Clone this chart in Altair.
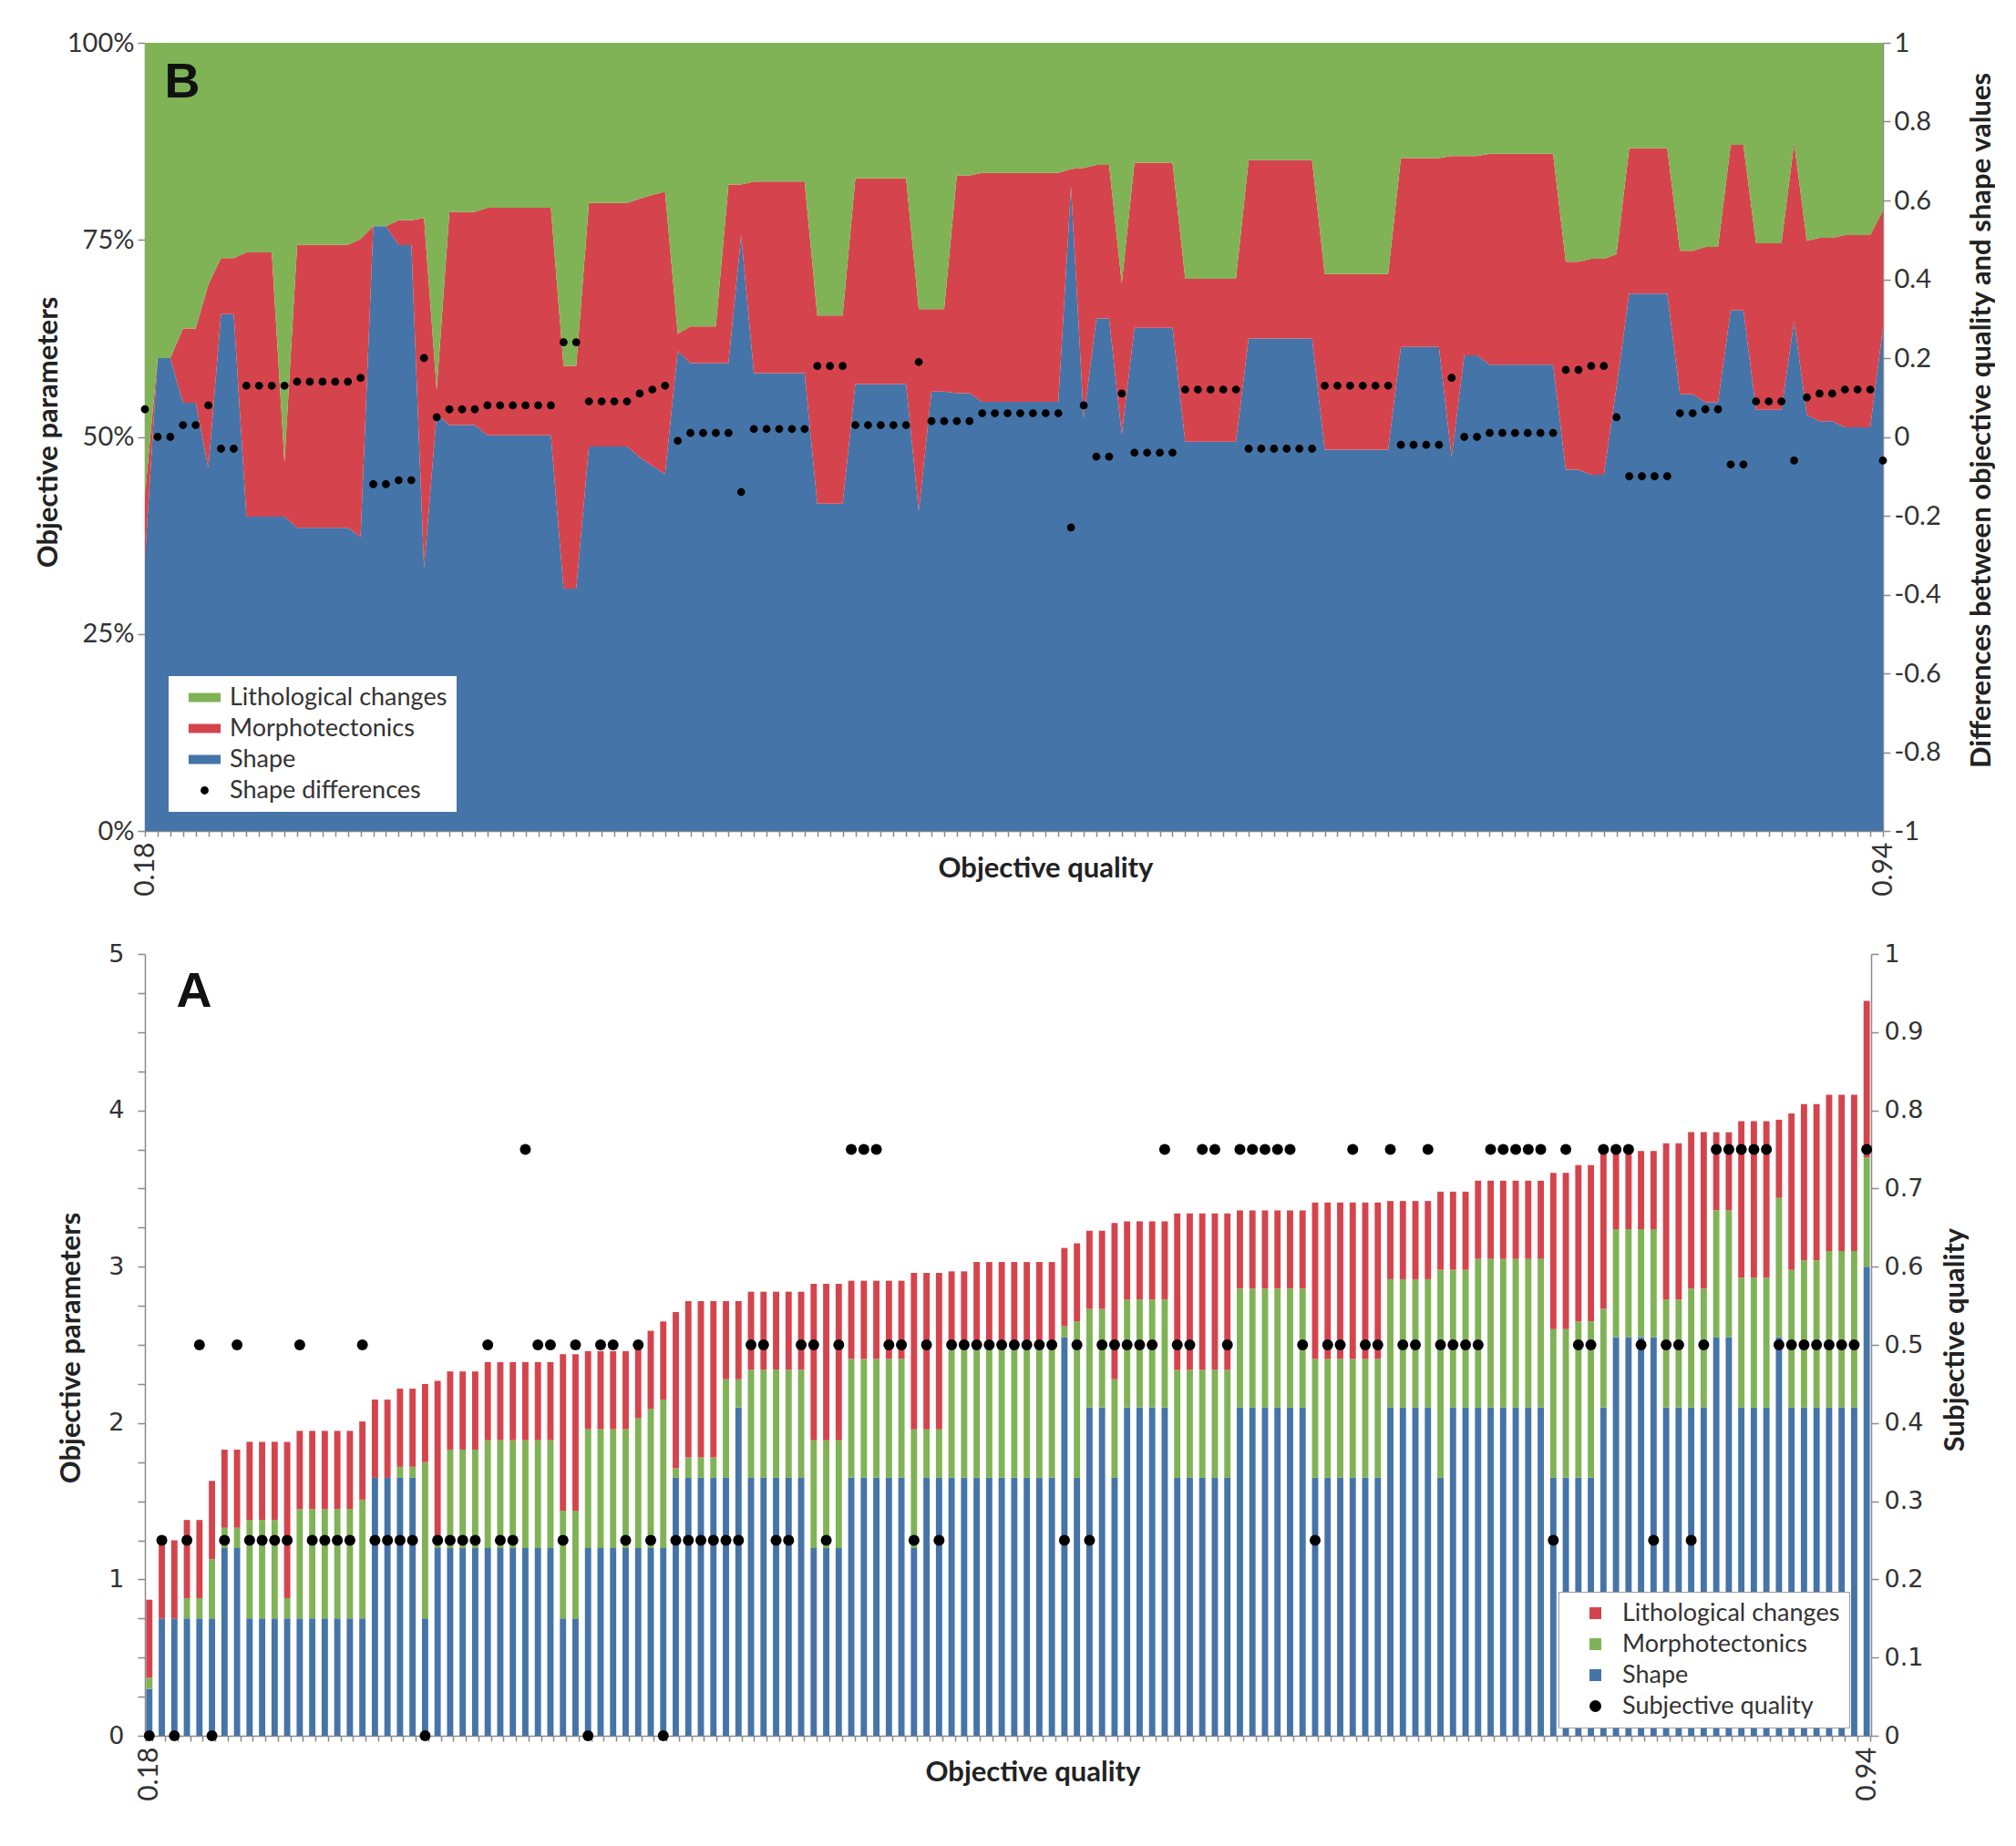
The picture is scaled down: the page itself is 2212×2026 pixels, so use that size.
import altair as alt
import pandas as pd

# one entry per sample, samples sorted by objective quality
shape = [
    0.3, 0.75, 0.75, 0.75, 0.75, 0.75, 1.2, 1.2, 0.75, 0.75,
    0.75, 0.75, 0.75, 0.75, 0.75, 0.75, 0.75, 0.75, 1.65, 1.65,
    1.65, 1.65, 0.75, 1.2, 1.2, 1.2, 1.2, 1.2, 1.2, 1.2,
    1.2, 1.2, 1.2, 0.75, 0.75, 1.2, 1.2, 1.2, 1.2, 1.2,
    1.2, 1.2, 1.65, 1.65, 1.65, 1.65, 1.65, 2.1, 1.65, 1.65,
    1.65, 1.65, 1.65, 1.2, 1.2, 1.2, 1.65, 1.65, 1.65, 1.65,
    1.65, 1.2, 1.65, 1.65, 1.65, 1.65, 1.65, 1.65, 1.65, 1.65,
    1.65, 1.65, 1.65, 2.55, 1.65, 2.1, 2.1, 1.65, 2.1, 2.1,
    2.1, 2.1, 1.65, 1.65, 1.65, 1.65, 1.65, 2.1, 2.1, 2.1,
    2.1, 2.1, 2.1, 1.65, 1.65, 1.65, 1.65, 1.65, 1.65, 2.1,
    2.1, 2.1, 2.1, 1.65, 2.1, 2.1, 2.1, 2.1, 2.1, 2.1,
    2.1, 2.1, 1.65, 1.65, 1.65, 1.65, 2.1, 2.55, 2.55, 2.55,
    2.55, 2.1, 2.1, 2.1, 2.1, 2.55, 2.55, 2.1, 2.1, 2.1,
    2.55, 2.1, 2.1, 2.1, 2.1, 2.1, 2.1, 3.0,
]
morpho = [
    0.07, 0, 0, 0.13, 0.13, 0.38, 0.13, 0.13, 0.63, 0.63,
    0.63, 0.13, 0.7, 0.7, 0.7, 0.7, 0.7, 0.76, 0, 0,
    0.07, 0.07, 1.0, 0.07, 0.63, 0.63, 0.63, 0.69, 0.69, 0.69,
    0.69, 0.69, 0.69, 0.69, 0.69, 0.76, 0.76, 0.76, 0.76, 0.83,
    0.89, 0.95, 0.06, 0.13, 0.13, 0.13, 0.63, 0.18, 0.69, 0.69,
    0.69, 0.69, 0.69, 0.69, 0.69, 0.69, 0.76, 0.76, 0.76, 0.76,
    0.76, 0.76, 0.31, 0.31, 0.82, 0.82, 0.88, 0.88, 0.88, 0.88,
    0.88, 0.88, 0.88, 0.07, 1.0, 0.63, 0.63, 0.63, 0.69, 0.69,
    0.69, 0.69, 0.69, 0.69, 0.69, 0.69, 0.69, 0.76, 0.76, 0.76,
    0.76, 0.76, 0.76, 0.76, 0.76, 0.76, 0.76, 0.76, 0.76, 0.82,
    0.82, 0.82, 0.82, 1.33, 0.88, 0.88, 0.95, 0.95, 0.95, 0.95,
    0.95, 0.95, 0.95, 0.95, 1.0, 1.0, 0.63, 0.69, 0.69, 0.69,
    0.69, 0.69, 0.69, 0.76, 0.76, 0.81, 0.81, 0.83, 0.83, 0.83,
    0.89, 0.88, 0.94, 0.94, 1.0, 1.0, 1.0, 0.7,
]
litho = [
    0.5, 0.5, 0.5, 0.5, 0.5, 0.5, 0.5, 0.5, 0.5, 0.5,
    0.5, 1.0, 0.5, 0.5, 0.5, 0.5, 0.5, 0.5, 0.5, 0.5,
    0.5, 0.5, 0.5, 1.0, 0.5, 0.5, 0.5, 0.5, 0.5, 0.5,
    0.5, 0.5, 0.5, 1.0, 1.0, 0.5, 0.5, 0.5, 0.5, 0.5,
    0.5, 0.5, 1.0, 1.0, 1.0, 1.0, 0.5, 0.5, 0.5, 0.5,
    0.5, 0.5, 0.5, 1.0, 1.0, 1.0, 0.5, 0.5, 0.5, 0.5,
    0.5, 1.0, 1.0, 1.0, 0.5, 0.5, 0.5, 0.5, 0.5, 0.5,
    0.5, 0.5, 0.5, 0.5, 0.5, 0.5, 0.5, 1.0, 0.5, 0.5,
    0.5, 0.5, 1.0, 1.0, 1.0, 1.0, 1.0, 0.5, 0.5, 0.5,
    0.5, 0.5, 0.5, 1.0, 1.0, 1.0, 1.0, 1.0, 1.0, 0.5,
    0.5, 0.5, 0.5, 0.5, 0.5, 0.5, 0.5, 0.5, 0.5, 0.5,
    0.5, 0.5, 1.0, 1.0, 1.0, 1.0, 1.0, 0.5, 0.5, 0.5,
    0.5, 1.0, 1.0, 1.0, 1.0, 0.5, 0.5, 1.0, 1.0, 1.0,
    0.5, 1.0, 1.0, 1.0, 1.0, 1.0, 1.0, 1.0,
]
subjective = [
    0, 0.25, 0, 0.25, 0.5, 0, 0.25, 0.5, 0.25, 0.25,
    0.25, 0.25, 0.5, 0.25, 0.25, 0.25, 0.25, 0.5, 0.25, 0.25,
    0.25, 0.25, 0, 0.25, 0.25, 0.25, 0.25, 0.5, 0.25, 0.25,
    0.75, 0.5, 0.5, 0.25, 0.5, 0, 0.5, 0.5, 0.25, 0.5,
    0.25, 0, 0.25, 0.25, 0.25, 0.25, 0.25, 0.25, 0.5, 0.5,
    0.25, 0.25, 0.5, 0.5, 0.25, 0.5, 0.75, 0.75, 0.75, 0.5,
    0.5, 0.25, 0.5, 0.25, 0.5, 0.5, 0.5, 0.5, 0.5, 0.5,
    0.5, 0.5, 0.5, 0.25, 0.5, 0.25, 0.5, 0.5, 0.5, 0.5,
    0.5, 0.75, 0.5, 0.5, 0.75, 0.75, 0.5, 0.75, 0.75, 0.75,
    0.75, 0.75, 0.5, 0.25, 0.5, 0.5, 0.75, 0.5, 0.5, 0.75,
    0.5, 0.5, 0.75, 0.5, 0.5, 0.5, 0.5, 0.75, 0.75, 0.75,
    0.75, 0.75, 0.25, 0.75, 0.5, 0.5, 0.75, 0.75, 0.75, 0.5,
    0.25, 0.5, 0.5, 0.25, 0.5, 0.75, 0.75, 0.75, 0.75, 0.75,
    0.5, 0.5, 0.5, 0.5, 0.5, 0.5, 0.5, 0.75,
]
# panel B dots (right axis)
shape_diff = [
    0.07, 0, 0, 0.03, 0.03, 0.08, -0.03, -0.03, 0.13, 0.13,
    0.13, 0.13, 0.14, 0.14, 0.14, 0.14, 0.14, 0.15, -0.12, -0.12,
    -0.11, -0.11, 0.2, 0.05, 0.07, 0.07, 0.07, 0.08, 0.08, 0.08,
    0.08, 0.08, 0.08, 0.24, 0.24, 0.09, 0.09, 0.09, 0.09, 0.11,
    0.12, 0.13, -0.01, 0.01, 0.01, 0.01, 0.01, -0.14, 0.02, 0.02,
    0.02, 0.02, 0.02, 0.18, 0.18, 0.18, 0.03, 0.03, 0.03, 0.03,
    0.03, 0.19, 0.04, 0.04, 0.04, 0.04, 0.06, 0.06, 0.06, 0.06,
    0.06, 0.06, 0.06, -0.23, 0.08, -0.05, -0.05, 0.11, -0.04, -0.04,
    -0.04, -0.04, 0.12, 0.12, 0.12, 0.12, 0.12, -0.03, -0.03, -0.03,
    -0.03, -0.03, -0.03, 0.13, 0.13, 0.13, 0.13, 0.13, 0.13, -0.02,
    -0.02, -0.02, -0.02, 0.15, 0, 0, 0.01, 0.01, 0.01, 0.01,
    0.01, 0.01, 0.17, 0.17, 0.18, 0.18, 0.05, -0.1, -0.1, -0.1,
    -0.1, 0.06, 0.06, 0.07, 0.07, -0.07, -0.07, 0.09, 0.09, 0.09,
    -0.06, 0.1, 0.11, 0.11, 0.12, 0.12, 0.12, -0.06,
]

end_labels = ["0.18", "0.94"]
panel_letters = ["B", "A"]
b_left_ticks = [0, 0.25, 0.5, 0.75, 1]
b_right_ticks = [-1, -0.8, -0.6, -0.4, -0.2, 0, 0.2, 0.4, 0.6, 0.8, 1]
a_left_ticks = [0, 0.25, 0.5, 0.75, 1, 1.25, 1.5, 1.75, 2, 2.25, 2.5, 2.75, 3,
                3.25, 3.5, 3.75, 4, 4.25, 4.5, 4.75, 5]
a_right_ticks = [0, 0.1, 0.2, 0.3, 0.4, 0.5, 0.6, 0.7, 0.8, 0.9, 1]

blue = "#4574a8"
red = "#d5444d"
green = "#80b355"

n = len(shape)
idx = list(range(n))

parts = pd.DataFrame({
    "idx": idx * 3,
    "series": ["Shape"] * n + ["Morphotectonics"] * n + ["Lithological changes"] * n,
    "rank": [0] * n + [1] * n + [2] * n,
    "value": shape + morpho + litho,
})
diffs = pd.DataFrame({"idx": idx, "series": "Shape differences", "value": shape_diff})
subj = pd.DataFrame({"idx": idx, "series": "Subjective quality", "value": subjective})

ends_expr = (f"datum.value == 0 ? '{end_labels[0]}' : "
             f"datum.value == {n - 1} ? '{end_labels[1]}' : ''")
one_decimal = "replace(format(datum.value, '.1~f'), '\u2212', '-')"

axis_style = dict(grid=False, domainColor="#8a8a8a", tickColor="#8a8a8a",
                  domainWidth=1.5, tickWidth=1.5, labelColor="#333333",
                  titleColor="#222222", titleFont="Lato", titleFontWeight="bold",
                  titleFontSize=31, titleAngle=270, titleAlign="center",
                  titleBaseline="middle")
x_style = dict(axis_style, titleAngle=0, labelAngle=270, labelOverlap=False,
               labelFont="Lato", labelFontSize=30, labelPadding=6, tickSize=6)
legend_style = dict(title=None, orient="none", fillColor="white", padding=10,
                    rowPadding=6, symbolStrokeWidth=0, labelFont="Lato",
                    labelFontSize=27, labelColor="#333333", labelLimit=0)

# ---------- panel B: shares of each parameter ----------
b_domain = ["Lithological changes", "Morphotectonics", "Shape", "Shape differences"]
b_colors = [green, red, blue, "black"]
bar_path = "M-1.6,-0.45H1.6V0.45H-1.6Z"
dot_path = "M0,-0.4A0.4,0.4,0,1,1,0,0.4A0.4,0.4,0,1,1,0,-0.4Z"
b_legend = alt.Legend(legendX=26, legendY=695, symbolOffset=16, labelOffset=14,
                      symbolSize=484, **legend_style)
b_color = alt.Color("series:N", scale=alt.Scale(domain=b_domain, range=b_colors),
                    legend=b_legend)
x_b = alt.X("idx:Q", scale=alt.Scale(domain=[0, n - 1], nice=False, zero=False),
            axis=alt.Axis(values=idx, labelExpr=ends_expr, labelFlush=False,
                          title="Objective quality", titleX=988, titleY=41,
                          **x_style))

area_b = alt.Chart(parts).mark_area().encode(
    x=x_b,
    y=alt.Y("value:Q", stack="normalize",
            axis=alt.Axis(orient="left", values=b_left_ticks, format=".0%",
                          labelFont="Lato", labelFontSize=29, tickSize=8,
                          labelPadding=4, title="Objective parameters",
                          titleX=-106, titleY=427, **axis_style)),
    color=b_color,
    order=alt.Order("rank:Q"),
)
dots_b = alt.Chart(diffs).mark_point(filled=True, size=484, opacity=1).encode(
    x=x_b,
    y=alt.Y("value:Q", scale=alt.Scale(domain=[-1, 1], nice=False),
            axis=alt.Axis(orient="right", values=b_right_ticks,
                          labelExpr=one_decimal, labelFont="Lato",
                          labelFontSize=29, tickSize=8, labelPadding=4,
                          title="Differences between objective quality and shape values",
                          titleX=108, titleY=414, **axis_style)),
    color=b_color,
    shape=alt.Shape("series:N", scale=alt.Scale(domain=b_domain,
                    range=[bar_path, bar_path, bar_path, dot_path]), legend=b_legend),
)
letter_b = alt.Chart(pd.DataFrame({"t": [panel_letters[0]]})).mark_text(
    font="Liberation Sans", fontWeight="bold", fontSize=54, color="#111111"
).encode(text="t:N", x=alt.value(41), y=alt.value(44))

panel_b = alt.layer(area_b, dots_b, letter_b).resolve_scale(
    y="independent").properties(width=1907, height=865)

# ---------- panel A: stacked parameter values ----------
a_domain = ["Lithological changes", "Morphotectonics", "Shape", "Subjective quality"]
a_colors = [red, green, blue, "black"]
a_legend = alt.Legend(legendX=1551, legendY=700, strokeColor="#9a9a9a",
                      symbolOffset=17, labelOffset=16, symbolSize=169,
                      **legend_style)
a_color = alt.Color("series:N", scale=alt.Scale(domain=a_domain, range=a_colors),
                    legend=a_legend)
x_a = alt.X("idx:O", scale=alt.Scale(paddingInner=0.5, paddingOuter=0.1),
            axis=alt.Axis(labelExpr=ends_expr, tickBand="extent",
                          title="Objective quality", titleX=974, titleY=40,
                          **x_style))

bars_a = alt.Chart(parts).mark_bar().encode(
    x=x_a,
    y=alt.Y("value:Q", stack="zero", scale=alt.Scale(domain=[0, 5], nice=False),
            axis=alt.Axis(orient="left", values=a_left_ticks,
                          labelExpr="datum.value % 1 == 0 ? format(datum.value, 'd') : ''",
                          labelFont="DejaVu Sans", labelFontSize=27, tickSize=8,
                          labelPadding=15, title="Objective parameters",
                          titleX=-81, titleY=432, **axis_style)),
    color=a_color,
    order=alt.Order("rank:Q"),
)
dots_a = alt.Chart(subj).mark_point(filled=True, size=144, opacity=1).encode(
    x=x_a,
    y=alt.Y("value:Q", scale=alt.Scale(domain=[0, 1], nice=False),
            axis=alt.Axis(orient="right", values=a_right_ticks,
                          labelExpr=one_decimal, labelFont="DejaVu Sans",
                          labelFontSize=27, tickSize=8, labelPadding=6,
                          title="Subjective quality", titleX=92, titleY=423,
                          **axis_style)),
    color=a_color,
    shape=alt.Shape("series:N", scale=alt.Scale(domain=a_domain,
                    range=["square", "square", "square", "circle"]), legend=a_legend),
)
letter_a = alt.Chart(pd.DataFrame({"t": [panel_letters[1]]})).mark_text(
    font="Liberation Sans", fontWeight="bold", fontSize=54, color="#111111"
).encode(text="t:N", x=alt.value(54), y=alt.value(42))

panel_a = alt.layer(bars_a, dots_a, letter_a).resolve_scale(
    y="independent").properties(width=1894, height=858)

chart = alt.vconcat(panel_b, panel_a, spacing=135, bounds="flush").resolve_scale(
    color="independent", shape="independent"
).properties(
    padding={"left": 29, "top": 25, "right": 0, "bottom": 0},
    background="white",
).configure_view(stroke=None)

chart.save("out.html", embed_options={"renderer": "svg", "actions": False})
